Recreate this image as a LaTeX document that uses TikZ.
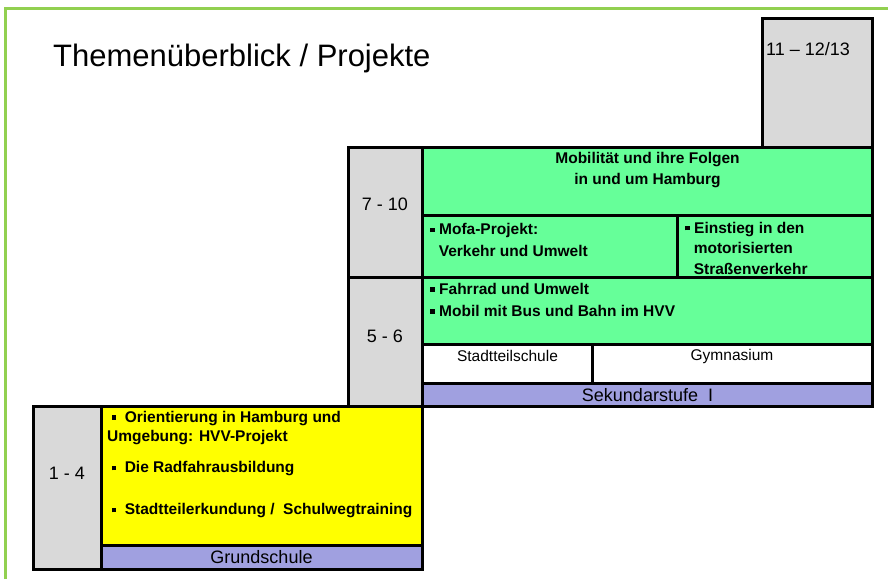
\documentclass[tikz,border=0pt]{standalone}
\usepackage{fontspec}
\setmainfont{Liberation Sans}
\usepackage{xcolor}
\usepackage{tikz}
\definecolor{frame_green}{HTML}{92D050}
\definecolor{cell_grey}{HTML}{D9D9D9}
\definecolor{cell_green}{HTML}{66FF99}
\definecolor{cell_yellow}{HTML}{FFFF00}
\definecolor{cell_lilac}{HTML}{A0A0E0}
\newcommand{\blt}{\raisebox{0.17em}{\rule{0.3em}{0.3em}}}

\begin{document}
\begin{tikzpicture}[x=1pt, y=-1pt, every node/.style={font=\fontsize{18}{21}\selectfont, inner sep=0pt},
  cell/.style={draw=black, line width=3pt},
  bold/.style={font=\fontsize{15.5}{21.5}\selectfont\bfseries, align=left, anchor=west}]

  \fill[white] (0,0) rectangle (888,579);
  \useasboundingbox (0,0) rectangle (888,579);
  \draw[frame_green, line width=3pt] (5,579) -- (5,8) -- (888,8);

  \node[anchor=west, font=\fontsize{31}{36}\selectfont] (title) at (53,58) {Themenüberblick / Projekte};

  % Oberstufe
  \draw[cell, fill=cell_grey] (762,18) rectangle (872,147);
  \node[anchor=west] (g1113) at (766,49) {11 -- 12/13};

  % Sekundarstufe I
  \draw[cell, fill=cell_grey] (348,147) rectangle (422,277);
  \draw[cell, fill=cell_grey] (348,277) rectangle (422,406);
  \draw[cell, fill=cell_green] (422,147) rectangle (872,215);
  \draw[cell, fill=cell_green] (422,215) rectangle (677,277);
  \draw[cell, fill=cell_green] (677,215) rectangle (872,277);
  \draw[cell, fill=cell_green] (422,277) rectangle (872,344);
  \draw[cell, fill=white] (422,344) rectangle (592,383);
  \draw[cell, fill=white] (592,344) rectangle (872,383);
  \draw[cell, fill=cell_lilac] (422,383) rectangle (872,406);

  \node (g710) at (385,204) {7 - 10};
  \node (g56) at (385,336) {5 - 6};
  \node[bold, align=center, anchor=center] (mobil) at (647.5,170) {Mobilität und ihre Folgen\\in und um Hamburg};
  \node[bold] (mofa) at (430,240) {\blt{} Mofa-Projekt:\\\ \ Verkehr und Umwelt};
  \node[bold, font=\fontsize{15.5}{20.5}\selectfont\bfseries] (einstieg) at (685,248) {\blt{} Einstieg in den\\\ \ motorisierten\\\ \ Straßenverkehr};
  \node[bold] (fahrrad) at (430,289) {\blt{} Fahrrad und Umwelt};
  \node[bold] (bus) at (430,311) {\blt{} Mobil mit Bus und Bahn im HVV};
  \node[font=\fontsize{15.5}{18}\selectfont] (stts) at (507.5,356) {Stadtteilschule};
  \node[font=\fontsize{15.5}{18}\selectfont] (gym) at (732,356) {Gymnasium};
  \node (sek) at (647.5,395) {Sekundarstufe\ \ I};

  % Grundschule
  \draw[cell, fill=cell_grey] (33,406) rectangle (101,569);
  \draw[cell, fill=cell_yellow] (101,406) rectangle (422,545);
  \draw[cell, fill=cell_lilac] (101,545) rectangle (422,569);

  \node (g14) at (67,473) {1 - 4};
  \node[bold, font=\fontsize{15.5}{19}\selectfont\bfseries] (orient) at (107,428) {\ \blt\ \ Orientierung in Hamburg und\\Umgebung: HVV-Projekt};
  \node[bold] (rad) at (107,469) {\ \blt\ \ Die Radfahrausbildung};
  \node[bold] (schulweg) at (107,511) {\ \blt\ \ Stadtteilerkundung /\ \ Schulwegtraining};
  \node (gs) at (261.5,557) {Grundschule};

\end{tikzpicture}
\end{document}
